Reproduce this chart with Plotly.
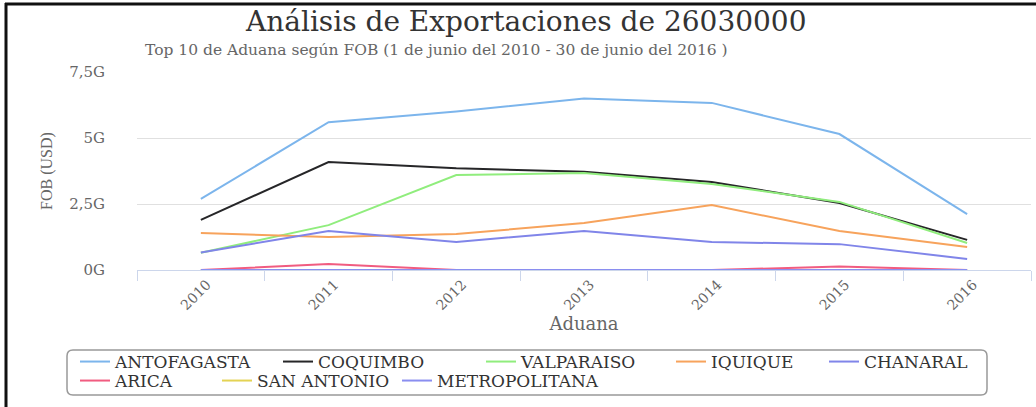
import plotly.graph_objects as go

years = ["2010", "2011", "2012", "2013", "2014", "2015", "2016"]

antofagasta = [2.69e9, 5.60e9, 6.00e9, 6.50e9, 6.33e9, 5.15e9, 2.12e9]
coquimbo = [1.90e9, 4.09e9, 3.85e9, 3.72e9, 3.33e9, 2.54e9, 1.14e9]
valparaiso = [0.65e9, 1.70e9, 3.60e9, 3.67e9, 3.26e9, 2.58e9, 1.02e9]
iquique = [1.40e9, 1.25e9, 1.36e9, 1.78e9, 2.46e9, 1.48e9, 0.87e9]
chanaral = [0.66e9, 1.48e9, 1.06e9, 1.48e9, 1.06e9, 0.98e9, 0.42e9]
arica = [0.0, 0.23e9, 0.0, 0.0, 0.0, 0.13e9, 0.0]
san_antonio = [0.0, 0.0, 0.0, 0.0, 0.0, 0.0, 0.0]
metropolitana = [0.0, 0.0, 0.0, 0.0, 0.0, 0.0, 0.0]

series_names = ["ANTOFAGASTA", "COQUIMBO", "VALPARAISO", "IQUIQUE", "CHANARAL",
                "ARICA", "SAN ANTONIO", "METROPOLITANA"]
series_values = [antofagasta, coquimbo, valparaiso, iquique, chanaral,
                 arica, san_antonio, metropolitana]
series_colors = ["#7cb5ec", "#262628", "#90ed7d", "#f7a35c", "#8085e9",
                 "#f15c80", "#e4d354", "#8a8ef0"]

ytick_vals = [0, 2.5e9, 5e9, 7.5e9]
ytick_text = ["0G", "2,5G", "5G", "7,5G"]

title_text = "Análisis de Exportaciones de 26030000"
subtitle_text = "Top 10 de Aduana según FOB (1 de junio del 2010 - 30 de junio del 2016 )"

FONT = "DejaVu Serif"
W, H = 1036, 407
L, R, T, B = 137, 5, 72, 137
pw = W - L - R
ph = H - T - B


def px(xp):
    return (xp - L) / pw


def py(yp):
    return (H - B - yp) / ph


# legend entry placement (pixel x of entry, pixel y of row centre)
legend_pos = [(75, 362), (278, 362), (481, 362), (671, 362), (824, 362),
              (75, 381), (217, 381), (397, 381)]

fig = go.Figure()
layout_legends = {}
for i, (name, vals, col) in enumerate(zip(series_names, series_values, series_colors)):
    lg = "legend" if i == 0 else f"legend{i + 1}"
    fig.add_trace(go.Scatter(x=years, y=vals, name=name, mode="lines",
                             line=dict(color=col, width=2), legend=lg))
    lx, ly = legend_pos[i]
    layout_legends[lg] = dict(orientation="h", xanchor="left", yanchor="middle",
                              xref="container", yref="container",
                              x=lx / W, y=1 - ly / H,
                              font=dict(family=FONT, size=17, color="#333333"),
                              borderwidth=0, bgcolor="rgba(0,0,0,0)", itemwidth=30)

fig.update_layout(
    width=W, height=H,
    margin=dict(l=L, r=R, t=T, b=B, autoexpand=False),
    paper_bgcolor="white", plot_bgcolor="white",
    font=dict(family=FONT, color="#666666"),
    showlegend=True,
    xaxis=dict(type="category", tickson="boundaries", ticks="outside", ticklen=10,
               tickcolor="#ccd6eb", showline=True, linecolor="#ccd6eb", linewidth=1,
               showgrid=False, tickangle=-45, tickfont=dict(size=14, color="#666666"),
               ticklabelshift=6,
               title=dict(text="Aduana", font=dict(size=18, color="#666666"), standoff=4),
               range=[-0.5, 6.5], zeroline=False, fixedrange=True, automargin=False),
    yaxis=dict(range=[0, 7.5e9], tickvals=ytick_vals, ticktext=ytick_text,
               showgrid=True, gridcolor="#e0e0e0", gridwidth=1, zeroline=False,
               tickfont=dict(size=15, color="#666666"), ticklabelstandoff=31,
               title=dict(text="FOB (USD)",
                          font=dict(family="Liberation Serif", size=16, color="#666666"),
                          standoff=12),
               fixedrange=True, automargin=False),
    annotations=[
        dict(text=title_text, x=px(525), y=py(22), xref="paper", yref="paper",
             showarrow=False, xanchor="center", yanchor="middle",
             font=dict(family=FONT, size=28, color="#333333")),
        dict(text=subtitle_text, x=px(436), y=py(50), xref="paper", yref="paper",
             showarrow=False, xanchor="center", yanchor="middle",
             font=dict(family=FONT, size=15.5, color="#666666")),
    ],
    **layout_legends,
)

# frame border (left and top)
fig.add_shape(type="line", xref="paper", yref="paper", x0=px(6), x1=px(6), y0=py(3), y1=py(H),
              line=dict(color="#111111", width=3))
fig.add_shape(type="line", xref="paper", yref="paper", x0=px(5), x1=px(W), y0=py(4), y1=py(4),
              line=dict(color="#111111", width=3))

# rounded legend box
x0, x1, y0, y1, r = 67, 987, 350, 395, 6
rx, ry = r / pw, r / ph
X0, X1, Y0, Y1 = px(x0), px(x1), py(y0), py(y1)
path = (f"M {X0 + rx},{Y0} L {X1 - rx},{Y0} Q {X1},{Y0} {X1},{Y0 - ry} "
        f"L {X1},{Y1 + ry} Q {X1},{Y1} {X1 - rx},{Y1} L {X0 + rx},{Y1} "
        f"Q {X0},{Y1} {X0},{Y1 + ry} L {X0},{Y0 - ry} Q {X0},{Y0} {X0 + rx},{Y0} Z")
fig.add_shape(type="path", xref="paper", yref="paper", path=path,
              line=dict(color="#999999", width=1.5), layer="below")

fig.write_html("out.html", config={"displayModeBar": False},
               post_script="document.body.style.margin='0';document.body.style.overflow='hidden';")
